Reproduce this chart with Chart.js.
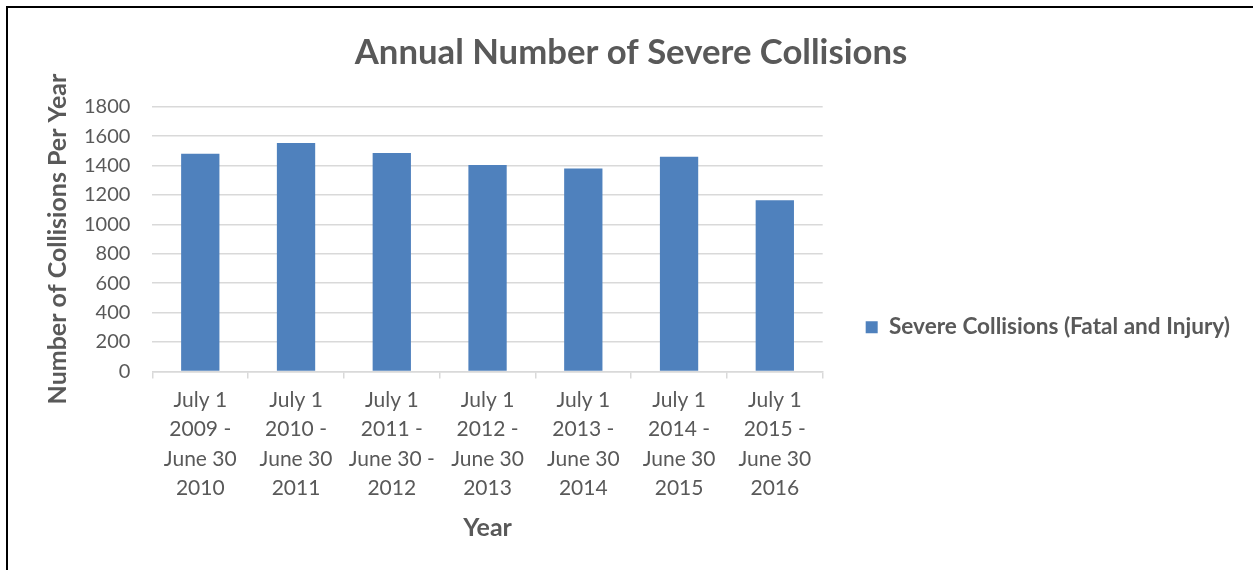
<!DOCTYPE html>
<html>
<head>
<meta charset="utf-8">
<script src="https://cdn.jsdelivr.net/npm/chart.js@4.4.1/dist/chart.umd.min.js"></script>
<style>
  html,body{margin:0;padding:0;background:#fff;}
  #wrap{position:relative;width:1253px;height:570px;overflow:hidden;}
  #frame{position:absolute;left:6px;top:6px;right:-10px;bottom:-10px;border-top:2px solid #000;border-left:2px solid #000;pointer-events:none;}
  canvas{position:absolute;left:0;top:0;}
</style>
</head>
<body>
<div id="wrap">
  <canvas id="c" width="1253" height="570"></canvas>
  <div id="frame"></div>
</div>
<script>
/* ---- datos ---- */
const periodos = [
  ['July 1','2009 -','June 30','2010'],
  ['July 1','2010 -','June 30','2011'],
  ['July 1','2011 -','June 30 -','2012'],
  ['July 1','2012 -','June 30','2013'],
  ['July 1','2013 -','June 30','2014'],
  ['July 1','2014 -','June 30','2015'],
  ['July 1','2015 -','June 30','2016']
];
const severas = [1480, 1553, 1484, 1403, 1380, 1460, 1164];
const yTicks = [0, 200, 400, 600, 800, 1000, 1200, 1400, 1600, 1800];

const GRIS = '#595959', LINEA = '#d9d9d9', AZUL = '#4f81bd';
Chart.defaults.font.family = 'Lato';
Chart.defaults.color = GRIS;

new Chart(document.getElementById('c'), {
  type: 'bar',
  data: {
    labels: periodos,
    datasets: [{
      label: 'Severe Collisions (Fatal and Injury)',
      data: severas,
      backgroundColor: AZUL,
      categoryPercentage: 1,
      barPercentage: 0.4
    }]
  },
  options: {
    responsive: false,
    animation: false,
    layout: {padding: {left: 22, right: 13, top: 0, bottom: 23}},
    plugins: {
      title: {display: true, text: 'Annual Number of Severe Collisions', color: GRIS,
        font: {size: 34.7, weight: 'bold', lineHeight: 1.2}, padding: {top: 32, bottom: 33}},
      legend: {position: 'right', maxWidth: 600,
        // título vacío: solo empuja la leyenda hacia abajo
        title: {display: true, text: '', font: {size: 12, lineHeight: 1.2}, padding: {top: 93, bottom: 0}},
        labels: {color: GRIS, boxWidth: 12, boxHeight: 12, font: {size: 22.6, weight: 'bold'}, padding: 43}},
      tooltip: {enabled: false}
    },
    scales: {
      x: {
        grid: {drawOnChartArea: false, drawTicks: true, tickLength: 7, color: LINEA, lineWidth: 1.5},
        border: {color: LINEA, width: 1.5},
        ticks: {color: GRIS, font: {size: 21, lineHeight: 1.4}, padding: 7, maxRotation: 0, autoSkip: false},
        title: {display: true, text: 'Year', color: GRIS, font: {size: 25, weight: 'bold'}, padding: {top: 3}}
      },
      y: {
        min: 0, max: 1800,
        afterBuildTicks: ax => { ax.ticks = yTicks.map(v => ({value: v})); },
        grid: {drawTicks: false, color: LINEA, lineWidth: 1.5},
        border: {display: false},
        ticks: {color: GRIS, font: {size: 20}, padding: 22, callback: v => String(v)},
        title: {display: true, text: 'Number of Collisions Per Year', color: GRIS,
          font: {size: 25, weight: 'bold'}, padding: {top: 21, bottom: -11}}
      }
    }
  }
});
</script>
</body>
</html>
